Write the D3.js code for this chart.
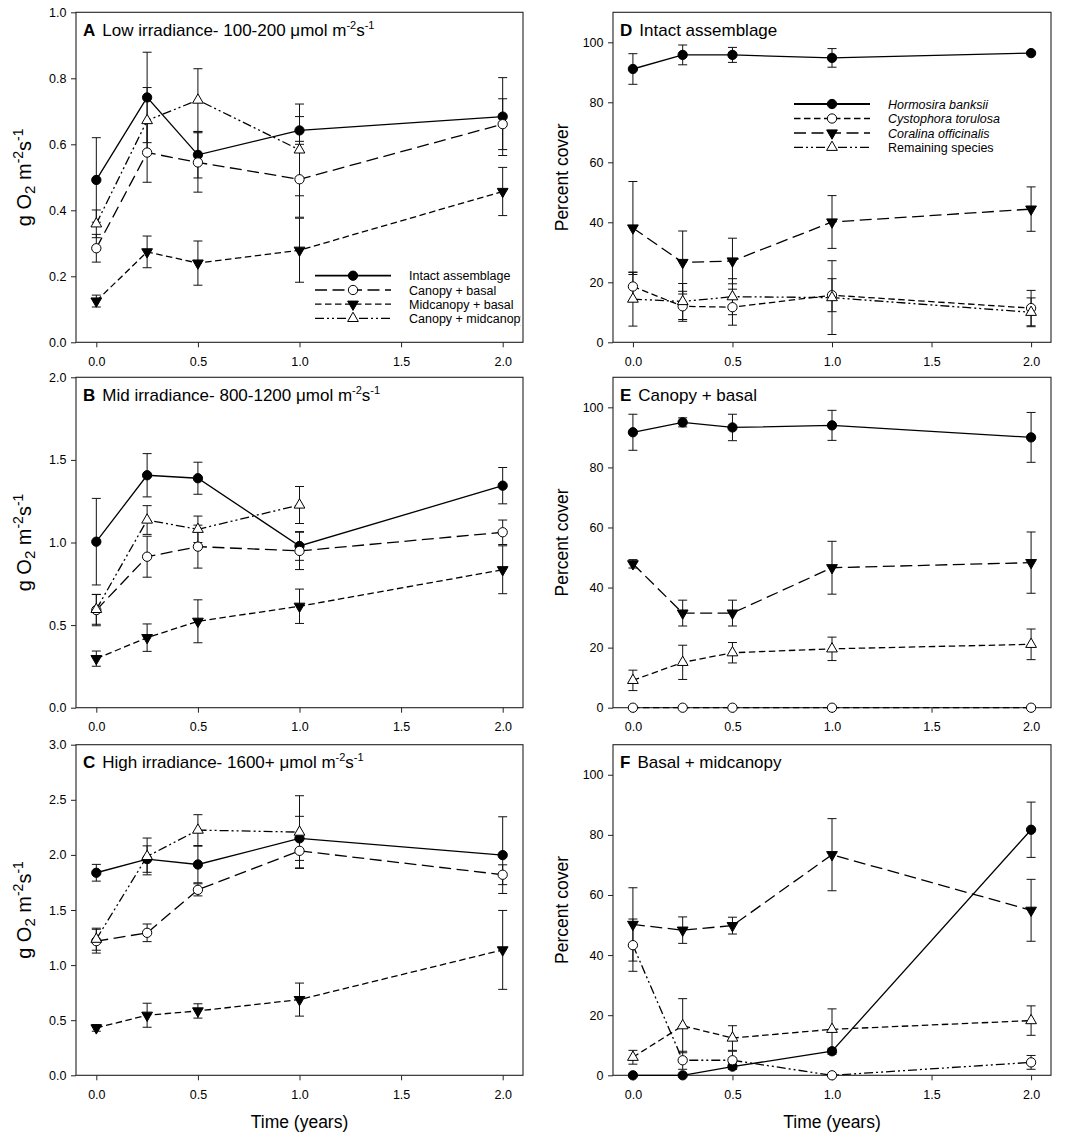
<!DOCTYPE html>
<html><head><meta charset="utf-8">
<script src="https://cdn.jsdelivr.net/npm/d3@7/dist/d3.min.js"></script>
<style>
body{margin:0;background:#fff}
text{font-family:"Liberation Sans",Arial,Helvetica,sans-serif;fill:#000}
</style>
</head><body>
<svg id="chart" width="1084" height="1138"></svg>
<script>
// ---------- DATA ----------
const times = [0, 0.25, 0.5, 1, 2];
const xTickValues = [0, 0.5, 1, 1.5, 2];
const treatmentNames = ["Intact assemblage", "Canopy + basal", "Midcanopy + basal", "Canopy + midcanopy"];
const speciesNames = ["Hormosira banksii", "Cystophora torulosa", "Coralina officinalis", "Remaining species"];

const ticksA = [0, 0.2, 0.4, 0.6, 0.8, 1.0];
const ticksB = [0, 0.5, 1.0, 1.5, 2.0];
const ticksC = [0, 0.5, 1.0, 1.5, 2.0, 2.5, 3.0];
const ticksCover = [0, 20, 40, 60, 80, 100];

// Panel A: low irradiance
const lowIntact = [0.492, 0.742, 0.568, 0.642, 0.684];
const lowIntactErr = [0.128, 0.137, 0.07, 0.042, 0.118];
const lowCanopyBasal = [0.285, 0.575, 0.545, 0.494, 0.661];
const lowCanopyBasalErr = [0.042, 0.09, 0.09, 0.115, 0.077];
const lowMidBasal = [0.125, 0.274, 0.240, 0.279, 0.457];
const lowMidBasalErr = [0.018, 0.048, 0.067, 0.097, 0.073];
const lowCanopyMid = [0.359, 0.672, 0.734, 0.583, null];
const lowCanopyMidErr = [0.042, 0.10, 0.095, 0.139, null];

// Panel B: mid irradiance
const midIntact = [1.005, 1.407, 1.389, 0.979, 1.344];
const midIntactErr = [0.262, 0.131, 0.097, 0.087, 0.110];
const midCanopyBasal = [0.591, 0.914, 0.975, 0.949, 1.062];
const midCanopyBasalErr = [0.095, 0.124, 0.13, 0.113, 0.074];
const midMidBasal = [0.297, 0.424, 0.523, 0.614, 0.835];
const midMidBasalErr = [0.046, 0.083, 0.13, 0.104, 0.145];
const midCanopyMid = [0.595, 1.136, 1.080, 1.227, null];
const midCanopyMidErr = [0.09, 0.087, 0.08, 0.112, null];

// Panel C: high irradiance
const highIntact = [1.838, 1.962, 1.913, 2.150, 1.998];
const highIntactErr = [0.076, 0.12, 0.166, 0.2, 0.348];
const highCanopyBasal = [1.217, 1.293, 1.683, 2.037, 1.82];
const highCanopyBasalErr = [0.108, 0.08, 0.055, 0.155, 0.09];
const highMidBasal = [0.43, 0.545, 0.584, 0.687, 1.138];
const highMidBasalErr = [0.03, 0.109, 0.065, 0.15, 0.358];
const highCanopyMid = [1.235, 1.986, 2.225, 2.207, null];
const highCanopyMidErr = [0.1, 0.167, 0.14, 0.33, null];

// Panel D: intact assemblage (percent cover)
const dHormosira = [91.1, 95.8, 95.8, 94.8, 96.4];
const dHormosiraErr = [5.1, 3.3, 2.5, 3.1, 0.5];
const dCystophora = [18.6, 12.0, 11.7, 15.7, 11.4];
const dCystophoraErr = [4.7, 5.0, 6.0, 5.5, 5.9];
const dCoralina = [38.1, 26.6, 27.1, 40.1, 44.4];
const dCoralinaErr = [15.5, 10.5, 7.6, 8.8, 7.4];
const dRemaining = [14.4, 13.6, 15.2, 14.9, 10.0];
const dRemainingErr = [9.0, 6.0, 6.0, 12.3, 4.8];

// Panel E: canopy + basal
const eHormosira = [91.7, 95.0, 93.3, 94.0, 90.0];
const eHormosiraErr = [6.0, 1.5, 4.4, 5.0, 8.3];
const eCystophora = [0, 0, 0, 0, 0];
const eCystophoraErr = [0, 0, 0, 0, 0];
const eCoralina = [47.9, 31.5, 31.5, 46.6, 48.3];
const eCoralinaErr = [1.4, 4.3, 4.3, 8.8, 10.2];
const eRemaining = [9.1, 15.1, 18.3, 19.6, 21.1];
const eRemainingErr = [3.4, 5.7, 3.4, 3.9, 5.1];

// Panel F: basal + midcanopy
const fHormosira = [0, 0, 2.9, 8.0, 81.7];
const fHormosiraErr = [0, 0, 0.8, 1.0, 9.2];
const fCystophora = [43.3, 5.0, 5.0, 0, 4.3];
const fCystophoraErr = [8.7, 3.0, 3.0, 0, 2.3];
const fCoralina = [50.2, 48.3, 49.8, 73.4, 54.9];
const fCoralinaErr = [12.2, 4.4, 2.8, 12.0, 10.3];
const fRemaining = [6.0, 16.5, 12.4, 15.3, 18.2];
const fRemainingErr = [2.3, 9.0, 4.1, 6.8, 4.9];

// ---------- STYLES ----------
const DASH = {
  solid: null,
  long: "12,5.5",
  med: "6.5,3.5",
  dotdot: "9,3,2,3,2,3"
};
const MARK = {
  fcircle: {type: d3.symbolCircle, size: 68, fill: "#000", rot: 0},
  ocircle: {type: d3.symbolCircle, size: 68, fill: "#fff", rot: 0},
  dtri:    {type: d3.symbolTriangle, size: 50, fill: "#000", rot: 180},
  utri:    {type: d3.symbolTriangle, size: 50, fill: "#fff", rot: 0}
};

const svg = d3.select("#chart");
svg.append("rect").attr("width",1084).attr("height",1138).attr("fill","#fff");

const leftX = [76, 523], rightX = [613, 1051];
const rows = [[12.3, 342.3], [377.3, 707.7], [744.7, 1075.3]];

function mk(vals, errs, dash, mark){ return {vals, errs, dash, mark}; }

const panels = [
  {letter:"A", text:"Low irradiance- 100-200 \u03BCmol m", unit:true, xr:leftX, yr:rows[0], dom:[0,1], ticks:ticksA, fmt:d3.format(".1f"), ylab:"o2",
   series:[mk(lowIntact,lowIntactErr,"solid","fcircle"), mk(lowCanopyBasal,lowCanopyBasalErr,"long","ocircle"),
           mk(lowMidBasal,lowMidBasalErr,"med","dtri"), mk(lowCanopyMid,lowCanopyMidErr,"dotdot","utri")],
   legend:{names:treatmentNames, italic:false, x0:315, x1:391, tx:409, y:[275.7,290,304.2,318.4],
           st:[["solid","fcircle"],["long","ocircle"],["med","dtri"],["dotdot","utri"]]}},
  {letter:"B", text:"Mid irradiance- 800-1200 \u03BCmol m", unit:true, xr:leftX, yr:rows[1], dom:[0,2], ticks:ticksB, fmt:d3.format(".1f"), ylab:"o2",
   series:[mk(midIntact,midIntactErr,"solid","fcircle"), mk(midCanopyBasal,midCanopyBasalErr,"long","ocircle"),
           mk(midMidBasal,midMidBasalErr,"med","dtri"), mk(midCanopyMid,midCanopyMidErr,"dotdot","utri")]},
  {letter:"C", text:"High irradiance- 1600+ \u03BCmol m", unit:true, xr:leftX, yr:rows[2], dom:[0,3], ticks:ticksC, fmt:d3.format(".1f"), ylab:"o2", xlab:true,
   series:[mk(highIntact,highIntactErr,"solid","fcircle"), mk(highCanopyBasal,highCanopyBasalErr,"long","ocircle"),
           mk(highMidBasal,highMidBasalErr,"med","dtri"), mk(highCanopyMid,highCanopyMidErr,"dotdot","utri")]},
  {letter:"D", text:"Intact assemblage", xr:rightX, yr:rows[0], dom:[0,110], ticks:ticksCover, fmt:d3.format("d"), ylab:"pc",
   series:[mk(dHormosira,dHormosiraErr,"solid","fcircle"), mk(dCystophora,dCystophoraErr,"med","ocircle"),
           mk(dCoralina,dCoralinaErr,"long","dtri"), mk(dRemaining,dRemainingErr,"dotdot","utri")],
   legend:{names:speciesNames, italic:true, x0:794, x1:870, tx:888, y:[104,118.5,133,147.3],
           st:[["solid","fcircle"],["med","ocircle"],["long","dtri"],["dotdot","utri"]]}},
  {letter:"E", text:"Canopy + basal", xr:rightX, yr:rows[1], dom:[0,110], ticks:ticksCover, fmt:d3.format("d"), ylab:"pc",
   series:[mk(eHormosira,eHormosiraErr,"solid","fcircle"), mk(eCystophora,eCystophoraErr,"med","ocircle"),
           mk(eCoralina,eCoralinaErr,"long","dtri"), mk(eRemaining,eRemainingErr,"med","utri")]},
  {letter:"F", text:"Basal + midcanopy", xr:rightX, yr:rows[2], dom:[0,110], ticks:ticksCover, fmt:d3.format("d"), ylab:"pc", xlab:true,
   series:[mk(fHormosira,fHormosiraErr,"solid","fcircle"), mk(fCystophora,fCystophoraErr,"dotdot","ocircle"),
           mk(fCoralina,fCoralinaErr,"long","dtri"), mk(fRemaining,fRemainingErr,"med","utri")]}
];

function drawMarker(g, key, x, y){
  const m = MARK[key];
  g.append("path")
    .attr("d", d3.symbol().type(m.type).size(m.size)())
    .attr("transform", `translate(${x},${y}) rotate(${m.rot})`)
    .attr("fill", m.fill).attr("stroke","#000").attr("stroke-width",1);
}

panels.forEach((p, pi) => {
  const x = d3.scaleLinear().domain([-0.1, 2.1]).range(p.xr);
  const y = d3.scaleLinear().domain(p.dom).range([p.yr[1], p.yr[0]]);
  const g = svg.append("g");

  // axes
  const xa = g.append("g").attr("transform", `translate(0,${p.yr[1]})`)
    .call(d3.axisBottom(x).tickValues(xTickValues).tickFormat(d3.format(".1f")).tickSize(5).tickPadding(9.5));
  const ya = g.append("g").attr("transform", `translate(${p.xr[0]},0)`)
    .call(d3.axisLeft(y).tickValues(p.ticks).tickFormat(p.fmt).tickSize(5).tickPadding(4.5));
  [xa, ya].forEach(a => {
    a.select(".domain").remove();
    a.selectAll("line").attr("stroke","#222");
    a.selectAll("text").attr("font-size","12.5px").attr("font-family","'Liberation Sans',Arial,sans-serif").attr("fill","#111");
  });

  // frame
  g.append("rect").attr("x",p.xr[0]).attr("y",p.yr[0])
    .attr("width",p.xr[1]-p.xr[0]).attr("height",p.yr[1]-p.yr[0])
    .attr("fill","none").attr("stroke","#222").attr("stroke-width",1.1);

  // title
  const t = g.append("text").attr("x", p.xr[0] + 7).attr("y", p.yr[0] + 23.5).attr("font-size","17px");
  t.append("tspan").attr("font-weight","bold").text(p.letter);
  t.append("tspan").attr("dx", 7).text(p.text);
  if (p.unit){
    t.append("tspan").attr("font-size","11px").attr("dy",-7).text("-2");
    t.append("tspan").attr("font-size","17px").attr("dy",7).text("s");
    t.append("tspan").attr("font-size","11px").attr("dy",-7).text("-1");
  }

  // y-axis label
  const cy = (p.yr[0] + p.yr[1]) / 2;
  if (p.ylab === "o2"){
    const yl = g.append("text").attr("transform", `translate(31,${cy}) rotate(-90)`)
      .attr("text-anchor","middle").attr("font-size","20px");
    yl.append("tspan").text("g O");
    yl.append("tspan").attr("font-size","15px").attr("dy",4).text("2");
    yl.append("tspan").attr("dy",-4).text(" m");
    yl.append("tspan").attr("font-size","14px").attr("dy",-8).text("-2");
    yl.append("tspan").attr("dy",8).text("s");
    yl.append("tspan").attr("font-size","14px").attr("dy",-8).text("-1");
  } else {
    g.append("text").attr("transform", `translate(568,${cy}) rotate(-90)`)
      .attr("text-anchor","middle").attr("font-size","17.5px").text("Percent cover");
  }
  if (p.xlab){
    g.append("text").attr("x", (p.xr[0]+p.xr[1])/2).attr("y", 1128)
      .attr("text-anchor","middle").attr("font-size","17.5px").text("Time (years)");
  }

  // series
  const pts = s => times.map((tv,i) => ({t:tv, v:s.vals[i], e:s.errs[i]}));
  const line = d3.line().defined(d => d.v != null).x(d => x(d.t)).y(d => y(d.v));
  p.series.forEach(s => {
    g.append("path").datum(pts(s)).attr("d", line)
      .attr("fill","none").attr("stroke","#000").attr("stroke-width",1.3)
      .attr("stroke-dasharray", DASH[s.dash]);
  });
  p.series.forEach(s => {
    pts(s).forEach(d => {
      if (d.v == null || !d.e) return;
      const xx = x(d.t), y1 = y(d.v + d.e), y2 = y(d.v - d.e);
      g.append("line").attr("x1",xx).attr("x2",xx).attr("y1",y1).attr("y2",y2).attr("stroke","#111").attr("stroke-width",1);
      [y1,y2].forEach(yy => g.append("line").attr("x1",xx-4.5).attr("x2",xx+4.5).attr("y1",yy).attr("y2",yy).attr("stroke","#111").attr("stroke-width",1));
    });
  });
  p.series.forEach(s => {
    pts(s).forEach(d => { if (d.v != null) drawMarker(g, s.mark, x(d.t), y(d.v)); });
  });

  // legend
  if (p.legend){
    const L = p.legend;
    const clipId = "clip" + pi;
    svg.append("clipPath").attr("id", clipId).append("rect")
      .attr("x",p.xr[0]).attr("y",p.yr[0]).attr("width",p.xr[1]-p.xr[0]-2).attr("height",p.yr[1]-p.yr[0]);
    const lg = g.append("g").attr("clip-path", `url(#${clipId})`);
    L.names.forEach((nm, i) => {
      const yy = L.y[i];
      const [dk, mkey] = L.st[i];
      lg.append("line").attr("x1",L.x0).attr("x2",L.x1).attr("y1",yy).attr("y2",yy)
        .attr("stroke","#000").attr("stroke-width", i===0 ? 1.8 : 1.3).attr("stroke-dasharray", DASH[dk]);
      drawMarker(lg, mkey, (L.x0+L.x1)/2, yy);
      lg.append("text").attr("x", L.tx).attr("y", yy + 4.5).attr("font-size","12.5px")
        .attr("font-style", (L.italic && i < 3) ? "italic" : "normal").text(nm);
    });
  }
});
</script>
</body></html>
